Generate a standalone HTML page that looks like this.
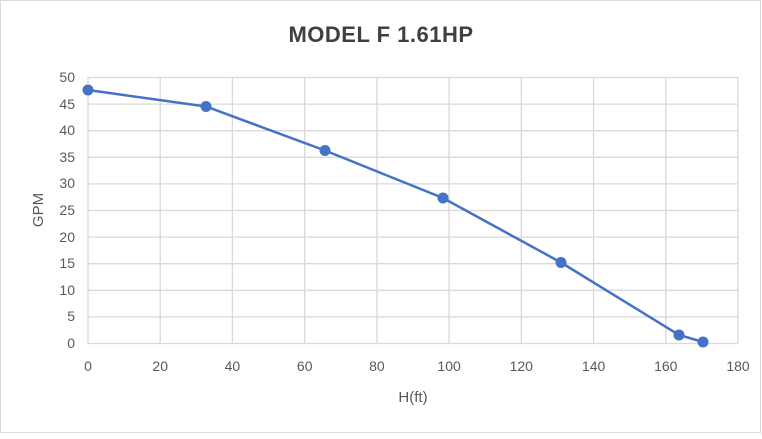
<!DOCTYPE html>
<html><head><style>
body{margin:0;background:#fff}
svg text{font-family:"Liberation Sans",sans-serif}
</style></head><body>
<svg width="762" height="434" xmlns="http://www.w3.org/2000/svg">
<rect x="0.5" y="0.5" width="760" height="432" fill="#fff" stroke="#d9d9d9"/>
<text x="381" y="42" text-anchor="middle" font-size="22" font-weight="bold" fill="#404040" letter-spacing="0.5">MODEL F 1.61HP</text>
<g stroke="#d9d9d9" stroke-width="1.3">
<line x1="88" y1="77.5" x2="738" y2="77.5"/>
<line x1="88" y1="104.1" x2="738" y2="104.1"/>
<line x1="88" y1="130.7" x2="738" y2="130.7"/>
<line x1="88" y1="157.3" x2="738" y2="157.3"/>
<line x1="88" y1="183.9" x2="738" y2="183.9"/>
<line x1="88" y1="210.5" x2="738" y2="210.5"/>
<line x1="88" y1="237.1" x2="738" y2="237.1"/>
<line x1="88" y1="263.7" x2="738" y2="263.7"/>
<line x1="88" y1="290.3" x2="738" y2="290.3"/>
<line x1="88" y1="316.9" x2="738" y2="316.9"/>
<line x1="88" y1="343.5" x2="738" y2="343.5"/>
<line x1="88" y1="77.5" x2="88" y2="343.5"/>
<line x1="160.2" y1="77.5" x2="160.2" y2="343.5"/>
<line x1="232.4" y1="77.5" x2="232.4" y2="343.5"/>
<line x1="304.7" y1="77.5" x2="304.7" y2="343.5"/>
<line x1="376.9" y1="77.5" x2="376.9" y2="343.5"/>
<line x1="449.1" y1="77.5" x2="449.1" y2="343.5"/>
<line x1="521.3" y1="77.5" x2="521.3" y2="343.5"/>
<line x1="593.6" y1="77.5" x2="593.6" y2="343.5"/>
<line x1="665.8" y1="77.5" x2="665.8" y2="343.5"/>
<line x1="738" y1="77.5" x2="738" y2="343.5"/>
</g>
<g font-size="14" fill="#595959" text-anchor="end">
<text x="75" y="82">50</text><text x="75" y="109">45</text><text x="75" y="135">40</text>
<text x="75" y="162">35</text><text x="75" y="188">30</text><text x="75" y="215">25</text>
<text x="75" y="242">20</text><text x="75" y="268">15</text><text x="75" y="295">10</text>
<text x="75" y="321">5</text><text x="75" y="348">0</text>
</g>
<g font-size="14" fill="#595959" text-anchor="middle">
<text x="88" y="371">0</text><text x="160.2" y="371">20</text><text x="232.4" y="371">40</text>
<text x="304.7" y="371">60</text><text x="376.9" y="371">80</text><text x="449.1" y="371">100</text>
<text x="521.3" y="371">120</text><text x="593.6" y="371">140</text><text x="665.8" y="371">160</text>
<text x="738" y="371">180</text>
</g>
<text x="413" y="402" text-anchor="middle" font-size="15" fill="#595959">H(ft)</text>
<text transform="translate(43,210) rotate(-90)" text-anchor="middle" font-size="15" fill="#595959">GPM</text>
<polyline fill="none" stroke="#4472c4" stroke-width="2.5" points="88,90 206,106.5 325,150.5 443,198 561,262.5 679,335 703,342"/>
<g fill="#4472c4">
<circle cx="88" cy="90" r="5.5"/><circle cx="206" cy="106.5" r="5.5"/><circle cx="325" cy="150.5" r="5.5"/>
<circle cx="443" cy="198" r="5.5"/><circle cx="561" cy="262.5" r="5.5"/><circle cx="679" cy="335" r="5.5"/>
<circle cx="703" cy="342" r="5.5"/>
</g>
</svg>
</body></html>
